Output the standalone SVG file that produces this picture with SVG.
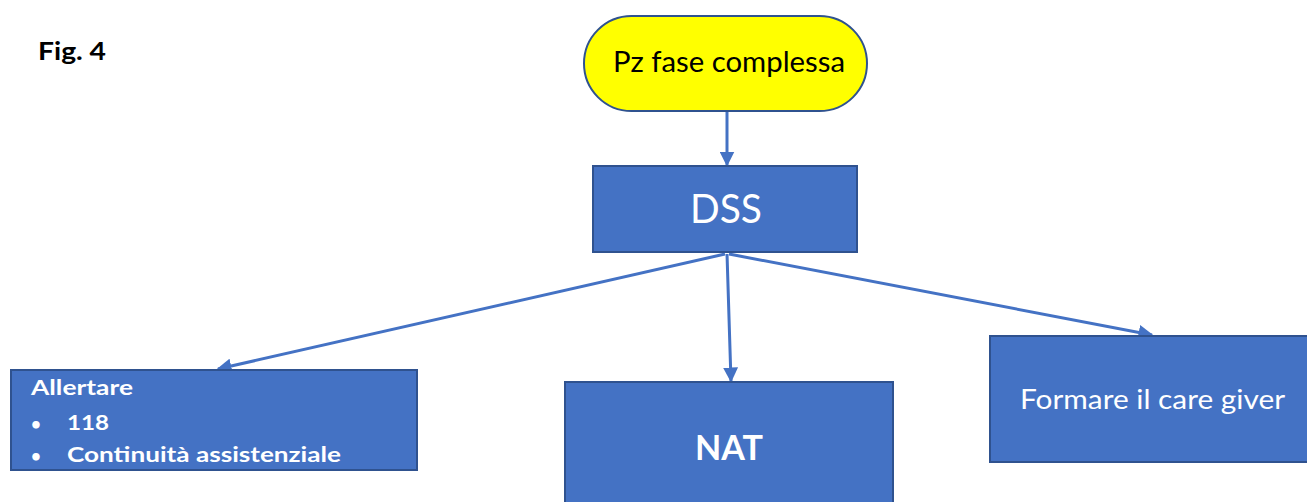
<svg xmlns="http://www.w3.org/2000/svg" width="1307" height="502" viewBox="0 0 1307 502">
<defs>
<style>
.box{fill:#4472C4;stroke:#2F528F;stroke-width:2}
.t{font-family:Lato,"Open Sans","Liberation Sans",sans-serif;fill:#fff}
.c{stroke:#4472C4;stroke-width:3;fill:none;marker-end:url(#ah)}
</style>
<marker id="ah" viewBox="0 0 10 10" refX="9" refY="5" markerWidth="5" markerHeight="5" orient="auto" markerUnits="strokeWidth">
<path d="M0,0 L10,5 L0,10 z" fill="#4472C4"/>
</marker>
</defs>
<rect width="1307" height="502" fill="#fff"/>
<text x="38" y="60" font-family="Lato,'Open Sans','Liberation Sans',sans-serif" font-weight="bold" font-size="25" fill="#000" textLength="68" lengthAdjust="spacingAndGlyphs">Fig. 4</text>
<g id="connectors">
<line class="c" x1="727" y1="112" x2="727" y2="165"/>
<line class="c" x1="725" y1="254" x2="218" y2="369"/>
<line class="c" x1="727" y1="254" x2="731" y2="381"/>
<line class="c" x1="729" y1="254" x2="1152" y2="335"/>
</g>
<g id="pz">
<rect x="584" y="16" width="283" height="95" rx="47.5" fill="#FFFF00" stroke="#2F528F" stroke-width="2"/>
<text x="613" y="72" font-family="Lato,'Open Sans','Liberation Sans',sans-serif" font-size="28" fill="#000" textLength="232" lengthAdjust="spacingAndGlyphs">Pz fase complessa</text>
</g>
<g id="dss">
<rect class="box" x="593" y="166" width="264" height="86"/>
<text class="t" x="690" y="223" font-size="41" textLength="72" lengthAdjust="spacingAndGlyphs">DSS</text>
</g>
<g id="allertare">
<rect class="box" x="11" y="370" width="406" height="100"/>
<text class="t" x="31" y="395" font-size="21" font-weight="bold" textLength="102" lengthAdjust="spacingAndGlyphs">Allertare</text>
<text class="t" x="31" y="430" font-size="17" font-weight="bold">•</text>
<text class="t" x="67" y="430" font-size="21" font-weight="bold" textLength="42" lengthAdjust="spacingAndGlyphs">118</text>
<text class="t" x="31" y="462" font-size="17" font-weight="bold">•</text>
<text class="t" x="67" y="462" font-size="21" font-weight="bold" textLength="274" lengthAdjust="spacingAndGlyphs">Continuità assistenziale</text>
</g>
<g id="nat">
<rect class="box" x="565" y="382" width="328" height="125"/>
<text class="t" x="695" y="460" font-size="35" font-weight="bold" textLength="68" lengthAdjust="spacingAndGlyphs">NAT</text>
</g>
<g id="formare">
<rect class="box" x="990" y="336" width="322" height="126"/>
<text class="t" x="1020" y="409" font-size="27" textLength="265" lengthAdjust="spacingAndGlyphs">Formare il care giver</text>
</g>
</svg>
